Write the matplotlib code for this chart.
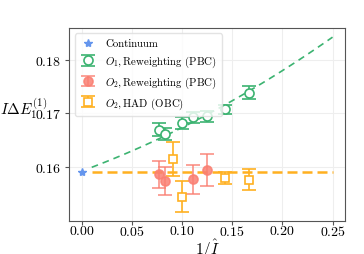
import numpy as np
import matplotlib
matplotlib.use("Agg")
import matplotlib.pyplot as plt

plt.rcParams['font.family'] = 'serif'
plt.rcParams['font.serif'] = ['cmr10']
plt.rcParams['mathtext.fontset'] = 'cm'
plt.rcParams['axes.formatter.use_mathtext'] = True

# continuum value
x_cont = [0.0]
y_cont = [0.1591]

# O1, reweighting (PBC)
x_o1 = [1/13, 1/12, 1/10, 1/9, 1/8, 1/7, 1/6]
y_o1 = [0.1669, 0.1661, 0.1681, 0.1692, 0.1694, 0.1707, 0.1738]
e_o1 = [0.0012, 0.0011, 0.0011, 0.0011, 0.0011, 0.0008, 0.0012]

# O2, reweighting (PBC)
x_o2 = [1/13, 1/12, 1/9, 1/8]
y_o2 = [0.1586, 0.1574, 0.1577, 0.1594]
e_o2 = [0.0025, 0.0026, 0.0027, 0.0029]

# O2, HAD (OBC)
x_had = [1/11, 1/10, 1/7, 1/6]
y_had = [0.1614, 0.1544, 0.1579, 0.1576]
e_had = [0.0032, 0.0029, 0.0012, 0.0019]

# fit curves
fit_x = [0.01, 0.25]
fit_o1 = [0.1592, 0.06875, 0.125]  # a + b x + c x^2
fit_o2 = 0.1591

xticks = [0.0, 0.05, 0.10, 0.15, 0.20, 0.25]
yticks = [0.16, 0.17, 0.18]

green = '#3cb371'
red = '#fa7f72'
orange = '#ffb020'

fig, ax = plt.subplots(figsize=(3.64, 2.55), dpi=100)

xs = np.linspace(fit_x[0], fit_x[1], 100)
ax.plot(xs, fit_o1[0] + fit_o1[1] * xs + fit_o1[2] * xs**2, '--', color=green, lw=1.2, dashes=(4, 3))
ax.plot(fit_x, [fit_o2, fit_o2], '--', color=orange, lw=1.8, dashes=(4, 2))

ax.plot(x_cont, y_cont, '*', color='cornflowerblue', ms=6, label='Continuum', ls='none')
ax.errorbar(x_o1, y_o1, yerr=e_o1, fmt='o', mfc='white', mec=green, color=green,
            ms=6.5, capsize=5, elinewidth=1.2, mew=1.2, label=r'$O_1,$Reweighting (PBC)')
ax.errorbar(x_o2, y_o2, yerr=e_o2, fmt='o', color=red, ms=6.5, capsize=5,
            elinewidth=1.2, mew=1.2, alpha=0.85, label=r'$O_2,$Reweighting (PBC)')
ax.errorbar(x_had, y_had, yerr=e_had, fmt='s', mfc='white', mec=orange, color=orange,
            ms=6, capsize=5, elinewidth=1.2, mew=1.2, label=r'$O_2,$HAD (OBC)')

ax.set_xlim(-0.0125, 0.2625)
ax.set_ylim(0.1499, 0.1859)
ax.set_xticks(xticks)
ax.set_xticklabels([r'$%.2f$' % t for t in xticks])
ax.set_yticks(yticks)
ax.set_yticklabels([r'$%.2f$' % t for t in yticks])
ax.tick_params(labelsize=10, length=3, color='#555555', pad=2.5)
ax.tick_params(axis='x', pad=-1)
ax.grid(True, color='#eeeeee', lw=0.8)
ax.set_axisbelow(True)
for s in ax.spines.values():
    s.set_color('#555555')

ax.set_xlabel(r'$1/\hat{I}$', fontsize=11, labelpad=-1)
ax.set_ylabel(r'$I\Delta E_1^{(1)}$', fontsize=11, rotation=0, ha='center', va='center')
ax.yaxis.set_label_coords(-0.165, 0.585)

ax.legend(loc='upper left', fontsize=7.8, framealpha=0.8, edgecolor='#dddddd',
          handlelength=1.5, borderpad=0.5, labelspacing=0.5)

fig.subplots_adjust(left=0.19, right=0.948, top=0.886, bottom=0.13)
fig.savefig('out.png', dpi=100)
